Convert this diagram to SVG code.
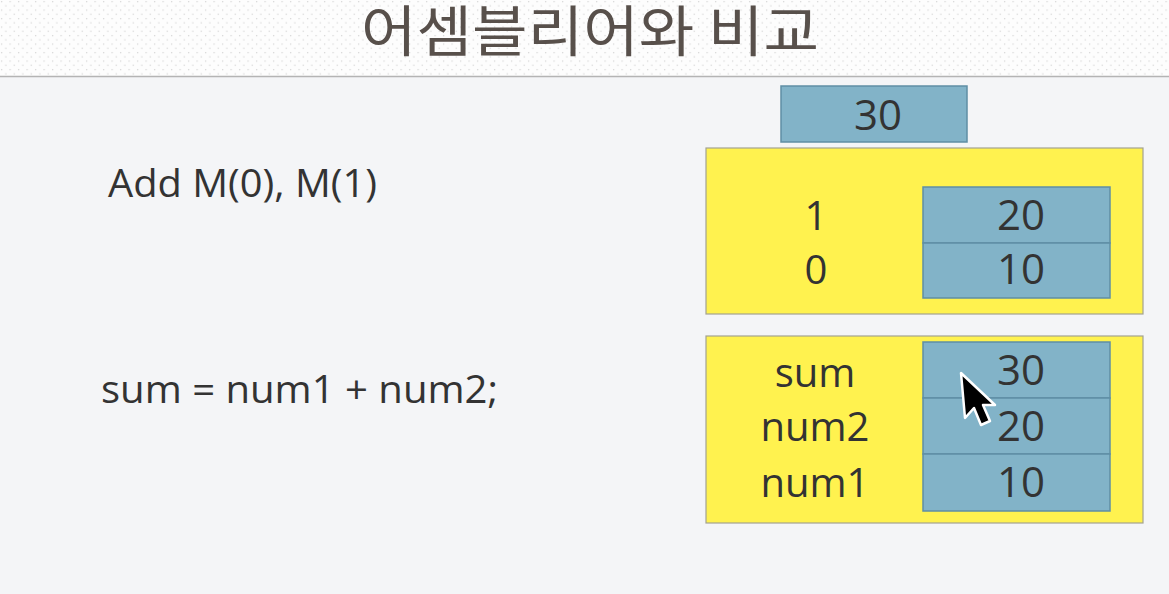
<svg xmlns="http://www.w3.org/2000/svg" width="1169" height="594" viewBox="0 0 1169 594">
  <defs>
    <pattern id="dots" x="0" y="0" width="8.5" height="8.5" patternUnits="userSpaceOnUse">
      <rect x="1" y="1" width="1.2" height="1.2" fill="#d2d2d2"/>
      <rect x="5.25" y="5.25" width="1.2" height="1.2" fill="#d2d2d2"/>
    </pattern>
    <style>
      .title { font-family: "Noto Sans CJK KR", "Noto Sans", sans-serif; font-size: 55px; fill: #58504b; }
      .code { font-family: "Open Sans", "Liberation Sans", sans-serif; font-size: 38px; fill: #333333; }
      .lbl { font-family: "Open Sans", "Liberation Sans", sans-serif; font-size: 40px; fill: #333333; text-anchor: middle; }
      .val { font-family: "Open Sans", "Liberation Sans", sans-serif; font-size: 42px; fill: #333333; text-anchor: middle; }
      .mem { fill: #fff24f; stroke: #a3a290; stroke-width: 1.2; }
      .cell { fill: #82b3c8; stroke: #5f8ea5; stroke-width: 1.5; }
    </style>
  </defs>

  <!-- background -->
  <rect x="0" y="0" width="1169" height="594" fill="#f4f5f7"/>
  <rect x="0" y="0" width="1169" height="76" fill="#fdfdfd"/>
  <rect x="0" y="0" width="1169" height="76" fill="url(#dots)"/>
  <line x1="0" y1="76.5" x2="1169" y2="76.5" stroke="#b4b4b4" stroke-width="1.5"/>

  <text class="title" x="361" y="51" textLength="458" lengthAdjust="spacingAndGlyphs">어셈블리어와 비교</text>

  <g id="code-asm">
    <text class="code" x="108" y="197" textLength="269" lengthAdjust="spacingAndGlyphs">Add M(0), M(1)</text>
  </g>
  <g id="code-c">
    <text class="code" x="101" y="403" textLength="397" lengthAdjust="spacingAndGlyphs">sum = num1 + num2;</text>
  </g>

  <g id="accumulator">
    <rect class="cell" x="781" y="86" width="186" height="56"/>
    <text class="val" x="878" y="130">30</text>
  </g>

  <g id="memory-asm">
    <rect class="mem" x="706" y="148" width="437" height="166"/>
    <text class="lbl" x="816" y="230">1</text>
    <text class="lbl" x="816" y="284">0</text>
    <rect class="cell" x="923" y="187" width="187" height="56"/>
    <rect class="cell" x="923" y="243" width="187" height="55"/>
    <text class="val" x="1021" y="230">20</text>
    <text class="val" x="1021" y="284">10</text>
  </g>

  <g id="memory-c">
    <rect class="mem" x="706" y="336" width="437" height="187"/>
    <text class="lbl" x="815" y="387">sum</text>
    <text class="lbl" x="815" y="441">num2</text>
    <text class="lbl" x="815" y="497">num1</text>
    <rect class="cell" x="923" y="342" width="187" height="56"/>
    <rect class="cell" x="923" y="398" width="187" height="56"/>
    <rect class="cell" x="923" y="454" width="187" height="57"/>
    <text class="val" x="1021" y="385">30</text>
    <text class="val" x="1021" y="441">20</text>
    <text class="val" x="1021" y="497">10</text>
  </g>

  <g id="connectors"></g>

  <!-- mouse cursor -->
  <path d="M961,373 L965,418 L974,408 L981,425 L990,421 L983,405 L995,405 Z" fill="#000000" stroke="#ffffff" stroke-width="2.5" stroke-linejoin="round"/>
</svg>
